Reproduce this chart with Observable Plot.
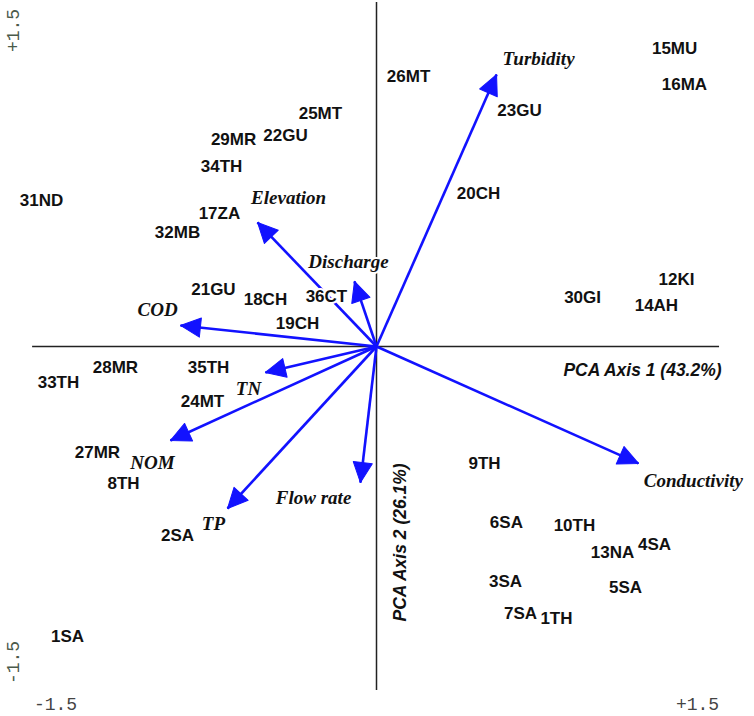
<!DOCTYPE html>
<html>
<head>
<meta charset="utf-8">
<script src="https://cdn.jsdelivr.net/npm/d3@7"></script>
<script src="https://cdn.jsdelivr.net/npm/@observablehq/plot@0.6"></script>
<style>
  html, body { margin: 0; padding: 0; background: #fff; }
  #chart svg { display: block; }
</style>
</head>
<body>
<div id="chart"></div>
<script>
// Site scores (PCA axis 1, PCA axis 2)
const siteNames = ["1SA","1TH","2SA","3SA","4SA","5SA","6SA","7SA","8TH","9TH","10TH","12KI","13NA","14AH","15MU","16MA","17ZA","18CH","19CH","20CH","21GU","22GU","23GU","24MT","25MT","26MT","27MR","28MR","29MR","30GI","31ND","32MB","33TH","34TH","35TH","36CT"];
const siteAxis1 = [-1.444, 0.841, -0.930, 0.603, 1.299, 1.164, 0.607, 0.673, -1.182, 0.505, 0.925, 1.402, 1.103, 1.308, 1.393, 1.439, -0.734, -0.519, -0.369, 0.477, -0.762, -0.425, 0.668, -0.813, -0.262, 0.150, -1.304, -1.220, -0.668, 0.963, -1.565, -0.930, -1.486, -0.724, -0.785, -0.234];
const siteAxis2 = [-1.377, -1.291, -0.897, -1.115, -0.940, -1.144, -0.835, -1.267, -0.650, -0.555, -0.850, 0.318, -0.978, 0.195, 1.415, 1.244, 0.631, 0.223, 0.109, 0.726, 0.271, 1.002, 1.120, -0.261, 1.106, 1.282, -0.503, -0.100, 0.983, 0.233, 0.693, 0.541, -0.171, 0.854, -0.100, 0.237];

// Variable loadings (arrow tips) and label positions
const varNames  = ["Turbidity", "Elevation", "Discharge", "COD", "TN", "NOM", "TP", "Flow rate", "Conductivity"];
const varAxis1  = [0.561, -0.556, -0.103, -0.916, -0.519, -0.963, -0.696, -0.075, 1.224];
const varAxis2  = [1.291, 0.589, 0.309, 0.100, -0.123, -0.446, -0.769, -0.646, -0.555];
const varLabel1 = [0.757, -0.411, -0.131, -1.023, -0.598, -1.047, -0.762, -0.294, 1.481];
const varLabel2 = [1.367, 0.707, 0.403, 0.176, -0.199, -0.551, -0.840, -0.717, -0.636];

// Axis titles and corner tick labels
const axisTitles = ["PCA Axis 1 (43.2%)", "PCA Axis 2 (26.1%)"];
const axisTitle1 = [1.243, 0.112];
const axisTitle2 = [-0.114, -0.930];
const tickValues = [-1.5, 1.5];
const tickLabels = ["-1.5", "+1.5"];

const sites = siteNames.map((name, i) => ({name, a1: siteAxis1[i], a2: siteAxis2[i]}));
const vars = varNames.map((name, i) => ({name, a1: varAxis1[i], a2: varAxis2[i], l1: varLabel1[i], l2: varLabel2[i]}));
const titles = axisTitles.map((t, i) => ({t, a1: axisTitle1[i], a2: axisTitle2[i], rot: i === 0 ? 0 : -90}));
const ticks = tickValues.map((v, i) => ({v, label: tickLabels[i]}));

const W = 754, H = 716;
const mL = 55, mR = 57, mT = 30, mB = 54;
const sx = (W - mL - mR) / 3, sy = (H - mT - mB) / 3;

const headShape = {
  draw(context, l) {
    const w = l * 0.48;
    context.moveTo(0, -l);
    context.lineTo(-w, 0);
    context.lineTo(w, 0);
    context.closePath();
  }
};

const blue = "#1212ff";

const chart = Plot.plot({
  width: W,
  height: H,
  marginLeft: mL,
  marginRight: mR,
  marginTop: mT,
  marginBottom: mB,
  x: {domain: [-1.5, 1.5], axis: null},
  y: {domain: [-1.5, 1.5], axis: null},
  style: {background: "#fff"},
  marks: [
    Plot.ruleY([0], {x1: -1.607, x2: 1.603, stroke: "#222", strokeWidth: 1.5}),
    Plot.ruleX([0], {y1: 1.633, y2: -1.633, stroke: "#222", strokeWidth: 1.5}),
    Plot.link(vars, {x1: 0, y1: 0, x2: "a1", y2: "a2", stroke: blue, strokeWidth: 2.6}),
    Plot.vector(vars, {
      x: "a1", y: "a2", anchor: "end", length: 20, shape: headShape,
      rotate: d => Math.atan2(d.a1 * sx, d.a2 * sy) * 180 / Math.PI,
      fill: blue, stroke: blue, strokeWidth: 1
    }),
    Plot.text(vars, {
      x: "l1", y: "l2", text: "name",
      fontFamily: "'Liberation Serif', 'DejaVu Serif', serif", fontSize: 19,
      fontStyle: "italic", fontWeight: "bold", fill: "#111",
      stroke: "white", strokeWidth: 4, paintOrder: "stroke"
    }),
    Plot.text(sites, {
      x: "a1", y: "a2", text: "name",
      fontFamily: "'Liberation Sans', Arial, sans-serif", fontSize: 17, fontWeight: "bold",
      fill: "#111", stroke: "white", strokeWidth: 4, paintOrder: "stroke"
    }),
    Plot.text(titles, {
      x: "a1", y: "a2", text: "t", rotate: "rot",
      fontFamily: "'Liberation Sans', Arial, sans-serif", fontSize: 17.5, fontStyle: "italic", fontWeight: "bold",
      fill: "#111", stroke: "white", strokeWidth: 4, paintOrder: "stroke"
    }),
    Plot.text(ticks, {
      x: "v", text: "label", frameAnchor: "bottom", dy: 42,
      textAnchor: "middle", lineAnchor: "middle",
      fontFamily: "'Liberation Mono', 'DejaVu Sans Mono', monospace", fontSize: 18, fill: "#444"
    }),
    Plot.text(ticks, {
      y: "v", text: "label", frameAnchor: "left", dx: -42, rotate: -90,
      textAnchor: "middle", lineAnchor: "middle",
      fontFamily: "'Liberation Mono', 'DejaVu Sans Mono', monospace", fontSize: 18, fill: "#4a5a4a"
    })
  ]
});

document.getElementById("chart").append(chart);
</script>
</body>
</html>
